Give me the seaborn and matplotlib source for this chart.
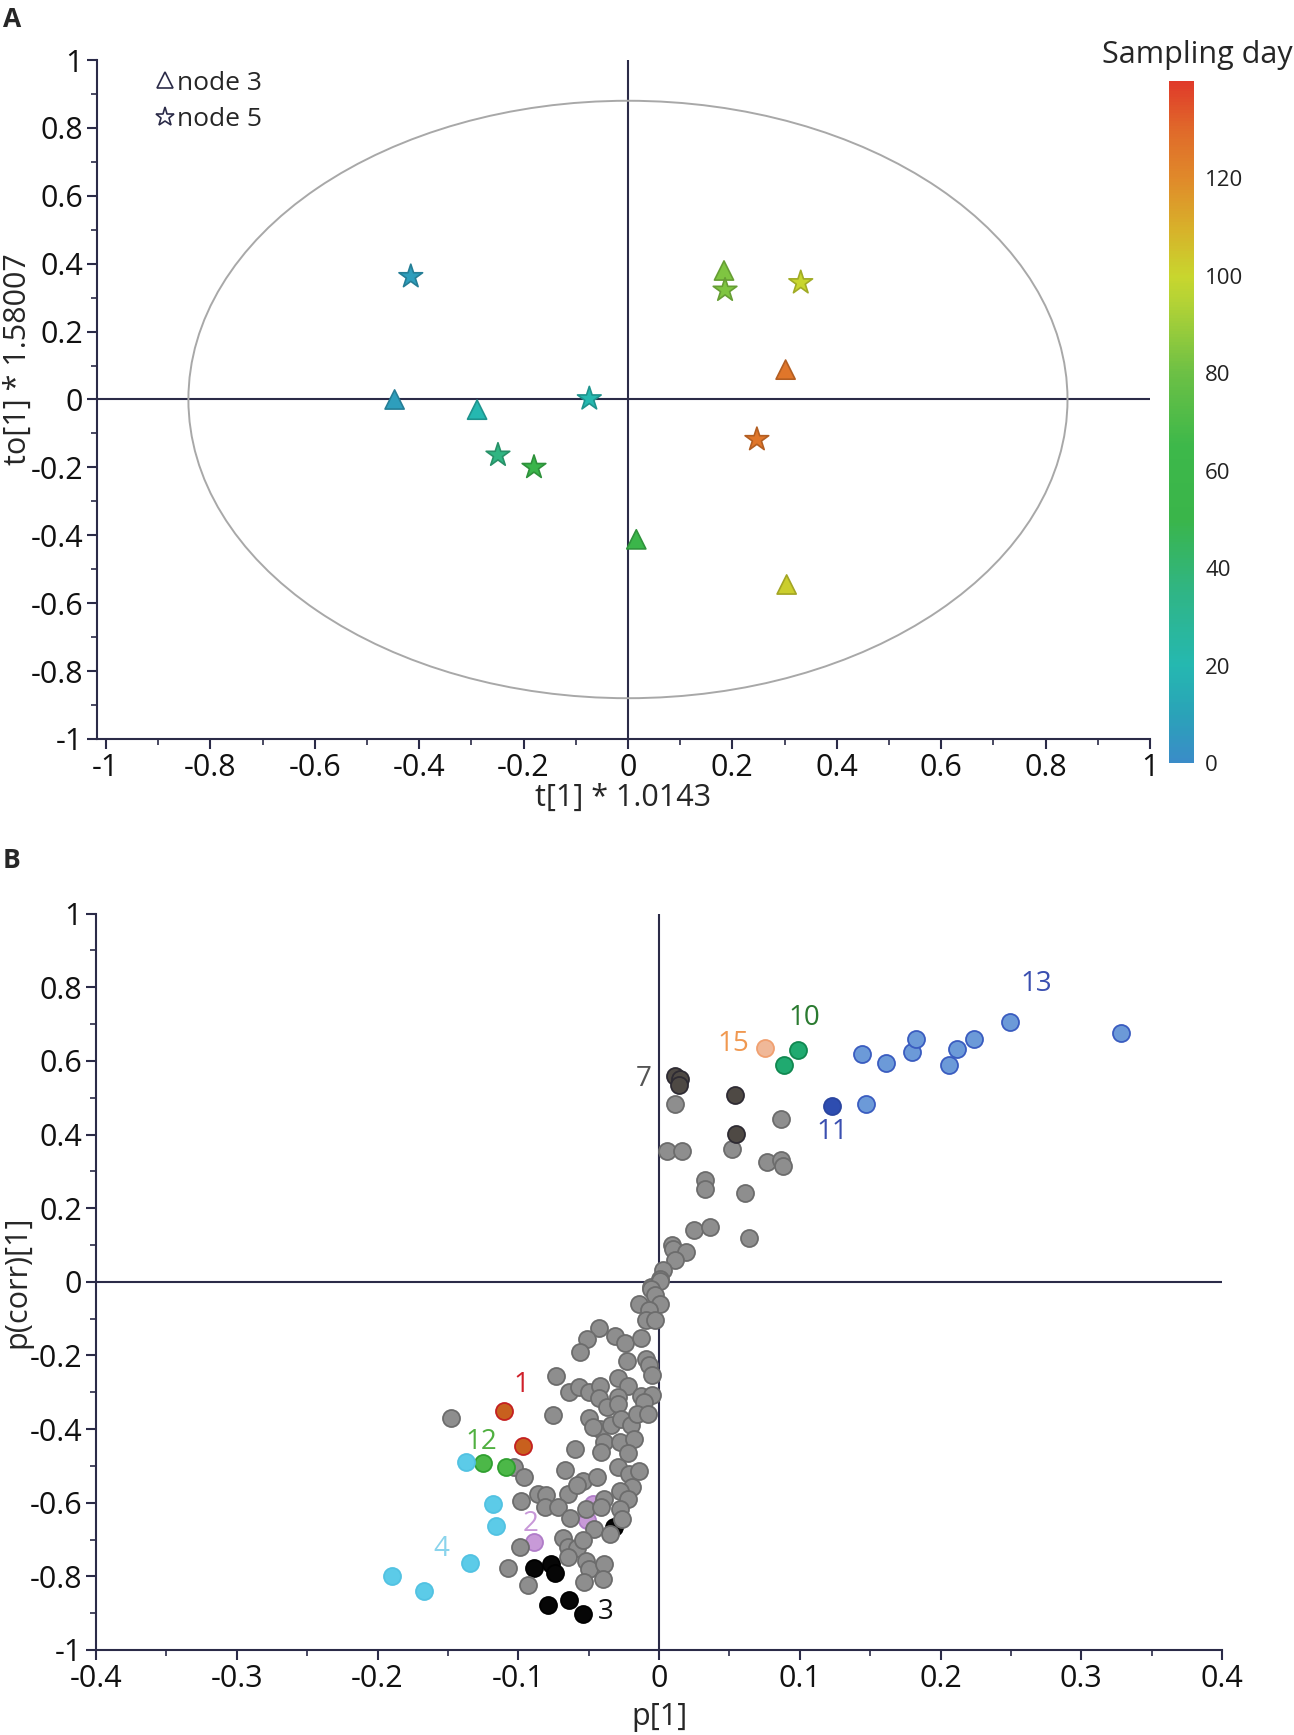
import numpy as np
import pandas as pd
import matplotlib
matplotlib.use("Agg")
import matplotlib.pyplot as plt
import seaborn as sns
from matplotlib.colors import LinearSegmentedColormap, Normalize
from matplotlib.patches import Ellipse
from matplotlib.lines import Line2D
from matplotlib.cm import ScalarMappable
from matplotlib.ticker import FixedLocator, FuncFormatter

# ---- panel A: OPLS score plot ----
node3_x = [-0.447, -0.289, 0.016, 0.184, 0.302, 0.304]
node3_y = [0.0, -0.03, -0.412, 0.38, 0.088, -0.545]
node3_day = [8, 20, 56, 84, 126, 102]

node5_x = [-0.416, -0.074, -0.249, -0.180, 0.186, 0.331, 0.247]
node5_y = [0.362, 0.002, -0.164, -0.200, 0.322, 0.344, -0.118]
node5_day = [8, 20, 36, 50, 84, 100, 126]

day_ticks = [0, 20, 40, 60, 80, 100, 120]

# ---- panel B: S-plot (loadings) ----
grey_x = [0.011, 0.087, 0.006, 0.016, 0.052, 0.077, 0.087, 0.088, 0.033, 0.033, 0.061,
          0.025, 0.036, 0.064, 0.009, 0.010, 0.019, 0.011, 0.003, 0.001, -0.006,
          0.001, -0.006, -0.003, 0.001, -0.014, -0.007, -0.009, -0.003, -0.043, -0.031,
          -0.024, -0.013, -0.051, -0.056, -0.023, -0.009, -0.007, -0.005, -0.073, -0.064,
          -0.057, -0.050, -0.042, -0.029, -0.022, -0.043, -0.037, -0.029, -0.029, -0.013,
          -0.005, -0.011, -0.075, -0.050, -0.042, -0.034, -0.027, -0.020, -0.016, -0.008,
          -0.039, -0.028, -0.018, -0.060, -0.041, -0.022,
          -0.103, -0.096, -0.067, -0.054, -0.044, -0.029, -0.021, -0.014, -0.019, -0.028,
          -0.086, -0.080, -0.098, -0.065, -0.058, -0.039, -0.022, -0.081, -0.072, -0.052,
          -0.041, -0.028, -0.026, -0.063, -0.046, -0.035, -0.068, -0.065, -0.058, -0.054,
          -0.099, -0.065, -0.052, -0.050, -0.039, -0.107, -0.093, -0.053, -0.040,
          -0.148, -0.047]
grey_y = [0.483, 0.442, 0.356, 0.356, 0.361, 0.325, 0.332, 0.314, 0.277, 0.252, 0.240,
          0.142, 0.148, 0.119, 0.101, 0.090, 0.082, 0.058, 0.031, 0.008, -0.015,
          0.003, -0.019, -0.037, -0.060, -0.060, -0.076, -0.105, -0.105, -0.126, -0.146,
          -0.166, -0.152, -0.155, -0.191, -0.216, -0.209, -0.226, -0.253, -0.256, -0.298,
          -0.286, -0.298, -0.282, -0.261, -0.283, -0.316, -0.339, -0.313, -0.331, -0.310,
          -0.307, -0.327, -0.363, -0.370, -0.401, -0.390, -0.372, -0.390, -0.359, -0.359,
          -0.434, -0.434, -0.428, -0.453, -0.461, -0.465,
          -0.503, -0.530, -0.510, -0.540, -0.530, -0.503, -0.521, -0.515, -0.558, -0.567,
          -0.576, -0.580, -0.594, -0.576, -0.553, -0.589, -0.589, -0.612, -0.612, -0.617,
          -0.612, -0.617, -0.644, -0.642, -0.671, -0.684, -0.696, -0.721, -0.723, -0.702,
          -0.721, -0.748, -0.757, -0.779, -0.766, -0.777, -0.823, -0.814, -0.808,
          -0.369, -0.395]

g1_x, g1_y = [-0.110, -0.097], [-0.350, -0.445]
g2_x, g2_y = [-0.089, -0.051, -0.047], [-0.707, -0.648, -0.603]
g3_x = [-0.0885, -0.077, -0.074, -0.079, -0.064, -0.054, -0.032]
g3_y = [-0.777, -0.766, -0.790, -0.879, -0.865, -0.903, -0.665]
g4_x = [-0.190, -0.167, -0.134, -0.116, -0.118, -0.137]
g4_y = [-0.799, -0.841, -0.763, -0.662, -0.603, -0.489]
g7_x, g7_y = [0.011, 0.015, 0.014, 0.054, 0.055], [0.559, 0.550, 0.535, 0.508, 0.402]
g10_x, g10_y = [0.089, 0.099], [0.588, 0.629]
g11_x, g11_y = [0.123], [0.477]
g12_x, g12_y = [-0.125, -0.109], [-0.492, -0.503]
g13_x = [0.144, 0.161, 0.180, 0.1825, 0.206, 0.212, 0.224, 0.249, 0.147, 0.328]
g13_y = [0.620, 0.595, 0.624, 0.660, 0.588, 0.633, 0.660, 0.706, 0.482, 0.677]
g15_x, g15_y = [0.075], [0.635]

group_names = ["1", "2", "3", "4", "7", "10", "11", "12", "13", "15"]
label_x = [-0.098, -0.091, -0.038, -0.155, -0.011, 0.103, 0.123, -0.126, 0.268, 0.053]
label_y = [-0.280, -0.657, -0.897, -0.727, 0.552, 0.717, 0.408, -0.435, 0.810, 0.647]

AXIS = "#2b2b48"
FS = 22

sns.set_style("ticks")
plt.rcParams["font.family"] = ["Open Sans", "DejaVu Sans"]
plt.rcParams["axes.unicode_minus"] = False

day_cmap = LinearSegmentedColormap.from_list(
    "sampling",
    [(0.0, "#3a8cc8"), (10 / 140, "#2aa3b8"), (20 / 140, "#25b8b0"), (35 / 140, "#30b585"),
     (50 / 140, "#3ab54a"), (65 / 140, "#3db84a"), (80 / 140, "#6cc045"), (95 / 140, "#b5d335"),
     (100 / 140, "#c8d62e"), (110 / 140, "#d8b02a"), (120 / 140, "#e08a2a"),
     (130 / 140, "#e06a2a"), (1.0, "#e03a2a")])
day_norm = Normalize(0, 140)


def fmt_tick(v, pos):
    return f"{round(v, 2) + 0:g}"


def style_axes(ax, xmaj, xmin, ymaj, ymin):
    for side in ["top", "right"]:
        ax.spines[side].set_visible(False)
    for side in ["left", "bottom"]:
        ax.spines[side].set_color(AXIS)
        ax.spines[side].set_linewidth(1.5)
    ax.xaxis.set_major_locator(FixedLocator(xmaj))
    ax.xaxis.set_minor_locator(FixedLocator(xmin))
    ax.yaxis.set_major_locator(FixedLocator(ymaj))
    ax.yaxis.set_minor_locator(FixedLocator(ymin))
    ax.xaxis.set_major_formatter(FuncFormatter(fmt_tick))
    ax.yaxis.set_major_formatter(FuncFormatter(fmt_tick))
    ax.tick_params(which="major", direction="out", length=7, width=1.5, color=AXIS,
                   labelsize=FS, labelcolor="#111111", pad=3)
    ax.tick_params(which="minor", direction="out", length=4, width=1.2, color=AXIS)
    ax.axhline(0, color=AXIS, lw=1.5, zorder=1)
    ax.axvline(0, color=AXIS, lw=1.5, zorder=1)


fig = plt.figure(figsize=(12.94, 17.35), dpi=100)

# ---------------- panel A ----------------
axA = fig.add_axes([0.075, 0.5741, 0.8137, 0.3913])
axA.set_xlim(-1.017, 1.0)
axA.set_ylim(-1, 1)
ticks_a = np.round(np.arange(-1, 1.01, 0.2), 2)
minor_a = np.round(np.arange(-1, 1.01, 0.1), 2)
style_axes(axA, ticks_a, minor_a, ticks_a, minor_a)

axA.add_patch(Ellipse((0, 0), 2 * 0.842, 2 * 0.88, fill=False, ec="#a8a8a8", lw=1.4, zorder=1))

df3 = pd.DataFrame({"x": node3_x, "y": node3_y, "day": node3_day})
df5 = pd.DataFrame({"x": node5_x, "y": node5_y, "day": node5_day})
for df, mk, size in [(df3, "^", 190), (df5, "*", 320)]:
    sns.scatterplot(data=df, x="x", y="y", hue="day", palette=day_cmap, hue_norm=day_norm,
                    marker=mk, s=size, linewidth=1.2, legend=False, ax=axA, zorder=3)
    coll = axA.collections[-1]
    fc = np.array(coll.get_facecolors())
    ec = fc.copy()
    ec[:, :3] *= 0.8
    coll.set_edgecolors(ec)

axA.set_xlabel("t[1] * 1.0143", fontsize=FS, labelpad=0)
axA.set_ylabel("to[1] * 1.58007", fontsize=FS, labelpad=-2, y=0.56)

handles = [Line2D([], [], marker="^", ls="", mfc="none", mec=AXIS, ms=12, mew=1.2),
           Line2D([], [], marker="*", ls="", mfc="none", mec=AXIS, ms=14, mew=1.2)]
axA.legend(handles, ["node 3", "node 5"], loc="upper left", bbox_to_anchor=(0.046, 1.0),
           frameon=False, fontsize=19, handlelength=0.7, handletextpad=0.1,
           labelspacing=0.45, borderaxespad=0)

cax = fig.add_axes([0.9034, 0.5602, 0.0193, 0.3933])
cb = fig.colorbar(ScalarMappable(norm=day_norm, cmap=day_cmap), cax=cax)
cb.outline.set_visible(False)
cb.set_ticks(day_ticks)
cax.tick_params(length=0, labelsize=16, pad=8, labelcolor="#222222")
fig.text(0.999, 1 - 55 / 1735, "Sampling day", ha="right", va="center", fontsize=FS)

# ---------------- panel B ----------------
axB = fig.add_axes([0.0742, 0.049, 0.8702, 0.4244])
axB.set_xlim(-0.4, 0.4)
axB.set_ylim(-1, 1)
style_axes(axB, np.round(np.arange(-0.4, 0.41, 0.1), 2), np.round(np.arange(-0.4, 0.41, 0.05), 3),
           ticks_a, minor_a)

groups = {
    "2": (g2_x, g2_y, "#c89ad8", "#b07cc8"),
    "3": (g3_x, g3_y, "#060606", "#000000"),
    "grey": (grey_x, grey_y, "#8e8e8e", "#6c6c6c"),
    "1": (g1_x, g1_y, "#c8601e", "#c42020"),
    "12": (g12_x, g12_y, "#4cb848", "#30a030"),
    "4": (g4_x, g4_y, "#5ccbe8", "#52c2e2"),
    "7": (g7_x, g7_y, "#4e4944", "#2e2b33"),
    "15": (g15_x, g15_y, "#f0b898", "#f0a070"),
    "10": (g10_x, g10_y, "#20aa70", "#108850"),
    "11": (g11_x, g11_y, "#2e4db0", "#2a45a0"),
    "13": (g13_x, g13_y, "#6c9ad8", "#3a5cc0"),
}
for name, (gx, gy, face, edge) in groups.items():
    sns.scatterplot(x=gx, y=gy, color=face, edgecolor=edge, s=150, linewidth=1.3,
                    ax=axB, zorder=3)

label_colors = {"1": "#d0202a", "2": "#c898d8", "3": "#111111", "4": "#8ad4ec",
                "7": "#555555", "10": "#2a7a30", "11": "#3a4fb0", "12": "#50b040",
                "13": "#3a4fb0", "15": "#f09850"}
for name, lx, ly in zip(group_names, label_x, label_y):
    axB.text(lx, ly, name, color=label_colors[name], fontsize=20, ha="center", va="center",
             zorder=4)

axB.set_xlabel("p[1]", fontsize=FS, labelpad=6)
axB.set_ylabel("p(corr)[1]", fontsize=FS, labelpad=-2)

fig.text(0.002, 1 - 6 / 1735, "A", fontsize=19, fontweight="bold", va="top", ha="left")
fig.text(0.002, 1 - 847 / 1735, "B", fontsize=19, fontweight="bold", va="top", ha="left")

fig.savefig("out.png", dpi=100)
